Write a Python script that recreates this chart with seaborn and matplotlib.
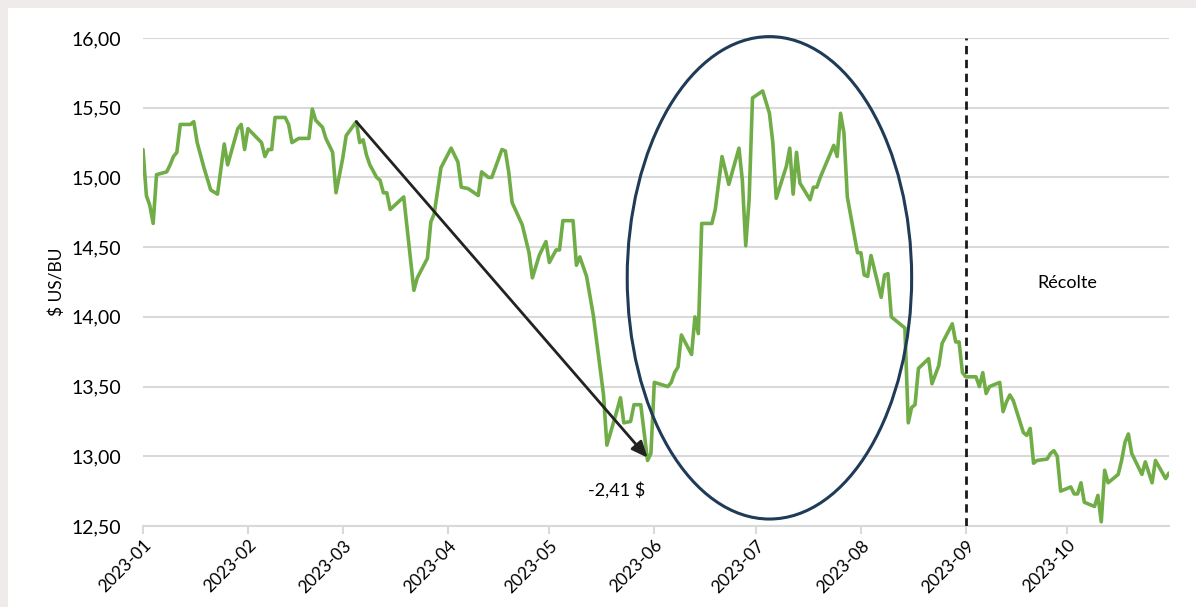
import matplotlib
matplotlib.use("Agg")
import matplotlib.pyplot as plt
import matplotlib.dates as mdates
from matplotlib.patches import Ellipse, Rectangle
from matplotlib.ticker import FuncFormatter
import pandas as pd
import seaborn as sns

dates = [
    "2023-01-01", "2023-01-02", "2023-01-03", "2023-01-04", "2023-01-05", "2023-01-08",
    "2023-01-09", "2023-01-10", "2023-01-11", "2023-01-12", "2023-01-15", "2023-01-16",
    "2023-01-17", "2023-01-19", "2023-01-21", "2023-01-23", "2023-01-25", "2023-01-26",
    "2023-01-29", "2023-01-30", "2023-01-31", "2023-02-01", "2023-02-05", "2023-02-06",
    "2023-02-07", "2023-02-08", "2023-02-09", "2023-02-12", "2023-02-13", "2023-02-14",
    "2023-02-16", "2023-02-19", "2023-02-20", "2023-02-21", "2023-02-23", "2023-02-24",
    "2023-02-26", "2023-02-27", "2023-03-01", "2023-03-02", "2023-03-05", "2023-03-06",
    "2023-03-07", "2023-03-08", "2023-03-09", "2023-03-11", "2023-03-12", "2023-03-13",
    "2023-03-14", "2023-03-15", "2023-03-19", "2023-03-22", "2023-03-23", "2023-03-26",
    "2023-03-27", "2023-03-28", "2023-03-30", "2023-04-02", "2023-04-04", "2023-04-05",
    "2023-04-07", "2023-04-10", "2023-04-11", "2023-04-13", "2023-04-14", "2023-04-17",
    "2023-04-18", "2023-04-19", "2023-04-20", "2023-04-23", "2023-04-25", "2023-04-26",
    "2023-04-28", "2023-04-30", "2023-05-01", "2023-05-03", "2023-05-04", "2023-05-05",
    "2023-05-08", "2023-05-09", "2023-05-10", "2023-05-12", "2023-05-14", "2023-05-17",
    "2023-05-18", "2023-05-21", "2023-05-22", "2023-05-23", "2023-05-25", "2023-05-26",
    "2023-05-28", "2023-05-30", "2023-05-31", "2023-06-01", "2023-06-05", "2023-06-06",
    "2023-06-07", "2023-06-08", "2023-06-09", "2023-06-12", "2023-06-13", "2023-06-14",
    "2023-06-15", "2023-06-18", "2023-06-19", "2023-06-21", "2023-06-23", "2023-06-26",
    "2023-06-27", "2023-06-28", "2023-06-29", "2023-06-30", "2023-07-03", "2023-07-05",
    "2023-07-06", "2023-07-07", "2023-07-10", "2023-07-11", "2023-07-12", "2023-07-13",
    "2023-07-14", "2023-07-17", "2023-07-18", "2023-07-19", "2023-07-20", "2023-07-24",
    "2023-07-25", "2023-07-26", "2023-07-27", "2023-07-28", "2023-07-31", "2023-08-01",
    "2023-08-02", "2023-08-03", "2023-08-04", "2023-08-07", "2023-08-08", "2023-08-09",
    "2023-08-10", "2023-08-14", "2023-08-15", "2023-08-16", "2023-08-17", "2023-08-18",
    "2023-08-21", "2023-08-22", "2023-08-24", "2023-08-25", "2023-08-28", "2023-08-29",
    "2023-08-30", "2023-08-31", "2023-09-01", "2023-09-04", "2023-09-05", "2023-09-06",
    "2023-09-07", "2023-09-08", "2023-09-11", "2023-09-12", "2023-09-13", "2023-09-14",
    "2023-09-15", "2023-09-18", "2023-09-19", "2023-09-20", "2023-09-21", "2023-09-22",
    "2023-09-25", "2023-09-26", "2023-09-27", "2023-09-28", "2023-09-29", "2023-10-02",
    "2023-10-03", "2023-10-04", "2023-10-05", "2023-10-06", "2023-10-09", "2023-10-10",
    "2023-10-11", "2023-10-12", "2023-10-13", "2023-10-16", "2023-10-17", "2023-10-18",
    "2023-10-19", "2023-10-20", "2023-10-23", "2023-10-24", "2023-10-26", "2023-10-27",
    "2023-10-30", "2023-10-31",
]

prices = [
    15.20, 14.87, 14.80, 14.67, 15.02, 15.04,
    15.09, 15.15, 15.18, 15.38, 15.38, 15.40,
    15.25, 15.07, 14.91, 14.88, 15.24, 15.09,
    15.35, 15.38, 15.20, 15.35, 15.25, 15.15,
    15.20, 15.20, 15.43, 15.43, 15.38, 15.25,
    15.28, 15.28, 15.49, 15.41, 15.36, 15.28,
    15.18, 14.89, 15.14, 15.30, 15.40, 15.25,
    15.27, 15.16, 15.09, 15.00, 14.98, 14.89,
    14.89, 14.77, 14.86, 14.19, 14.28, 14.42,
    14.68, 14.74, 15.07, 15.21, 15.11, 14.93,
    14.92, 14.87, 15.04, 15.00, 15.00, 15.20,
    15.19, 15.04, 14.82, 14.66, 14.46, 14.28,
    14.44, 14.54, 14.39, 14.48, 14.48, 14.69,
    14.69, 14.37, 14.43, 14.29, 14.01, 13.44,
    13.08, 13.33, 13.42, 13.24, 13.25, 13.37,
    13.37, 12.97, 13.02, 13.53, 13.50, 13.53,
    13.60, 13.64, 13.87, 13.73, 14.00, 13.88,
    14.67, 14.67, 14.77, 15.15, 14.95, 15.21,
    14.98, 14.51, 14.84, 15.57, 15.62, 15.46,
    15.25, 14.85, 15.08, 15.21, 14.88, 15.18,
    14.96, 14.84, 14.93, 14.93, 15.00, 15.23,
    15.15, 15.46, 15.32, 14.86, 14.46, 14.46,
    14.30, 14.29, 14.44, 14.14, 14.30, 14.31,
    14.00, 13.92, 13.24, 13.35, 13.37, 13.63,
    13.70, 13.52, 13.65, 13.81, 13.95, 13.82,
    13.82, 13.60, 13.57, 13.57, 13.50, 13.60,
    13.45, 13.50, 13.53, 13.32, 13.39, 13.44,
    13.40, 13.17, 13.15, 13.20, 12.95, 12.97,
    12.98, 13.02, 13.04, 13.00, 12.75, 12.78,
    12.73, 12.73, 12.81, 12.67, 12.64, 12.72,
    12.53, 12.90, 12.81, 12.87, 12.97, 13.10,
    13.16, 13.02, 12.87, 12.96, 12.81, 12.97,
    12.84, 12.88,
]

month_ticks = ["2023-01-01", "2023-02-01", "2023-03-01", "2023-04-01", "2023-05-01",
               "2023-06-01", "2023-07-01", "2023-08-01", "2023-09-01", "2023-10-01"]
y_ticks = [12.5, 13.0, 13.5, 14.0, 14.5, 15.0, 15.5, 16.0]

y_label = "$ US/BU"
drop_label = "-2,41 $"
harvest_label = "Récolte"
harvest_date = "2023-09-01"
arrow_start = ("2023-03-05", 15.40)
arrow_end = ("2023-05-30", 12.99)
ellipse_center = ("2023-07-05", 14.28)
ellipse_size = (84, 3.46)  # days, $ US/BU

sns.set_theme(style="white")
plt.rcParams["font.family"] = ["Lato", "DejaVu Sans"]

df = pd.DataFrame({"date": pd.to_datetime(dates), "price": prices})

fig = plt.figure(figsize=(11.96, 6.07), dpi=100)
fig.patch.set_facecolor("#eeebea")
bg = Rectangle((8 / 1196, 0), 1, 1 - 8 / 607, transform=fig.transFigure,
               facecolor="white", edgecolor="none", zorder=-10)
fig.add_artist(bg)
ax = fig.add_axes([143 / 1196, 1 - 526 / 607, (1169 - 143) / 1196, (526 - 38) / 607])
ax.set_zorder(1)
ax.patch.set_alpha(0)

sns.lineplot(data=df, x="date", y="price", ax=ax, color="#70ad47", linewidth=2.6, zorder=3)

ax.set_xlim(pd.Timestamp("2023-01-01"), pd.Timestamp("2023-10-31"))
ax.set_ylim(12.5, 16.0)
ax.set_yticks(y_ticks)
ax.yaxis.set_major_formatter(FuncFormatter(lambda v, p: f"{v:.2f}".replace(".", ",")))
ax.set_xticks(pd.to_datetime(month_ticks))
ax.xaxis.set_major_formatter(mdates.DateFormatter("%Y-%m"))
ax.grid(axis="y", color="#d9d9d9", linewidth=1.5, zorder=0)
ax.grid(axis="x", visible=False)
for s in ["left", "right", "top"]:
    ax.spines[s].set_visible(False)
ax.spines["bottom"].set_color("#d9d9d9")
ax.spines["bottom"].set_linewidth(1.5)
ax.tick_params(axis="x", which="major", bottom=True, length=6, width=1.5, color="#d9d9d9",
               labelsize=12.5, labelcolor="#000000", pad=2)
ax.tick_params(axis="y", left=False, labelsize=14, labelcolor="#000000", pad=10)
for lab in ax.get_xticklabels():
    lab.set_rotation(45)
    lab.set_ha("right")
    lab.set_rotation_mode("anchor")
ax.set_xlabel("")
ax.set_ylabel(y_label, fontsize=12.5, color="#000000", labelpad=4)
ax.yaxis.set_label_coords(-0.076, 0.5)

# harvest line
ax.axvline(pd.Timestamp(harvest_date), color="#1a1a1a", linestyle=(0, (3, 2)), linewidth=2, zorder=4)
ax.text(pd.Timestamp("2023-10-01"), 14.24, harvest_label, fontsize=13, ha="center", va="center",
        color="#000000")

# drop arrow
ax.annotate("", xy=(pd.Timestamp(arrow_end[0]), arrow_end[1]),
            xytext=(pd.Timestamp(arrow_start[0]), arrow_start[1]),
            arrowprops=dict(arrowstyle="-|>,head_length=0.8,head_width=0.35", color="#222222",
                            linewidth=2, shrinkA=0, shrinkB=0), zorder=5)
ax.text(pd.Timestamp("2023-05-21"), 12.76, drop_label, fontsize=13, ha="center", va="center",
        color="#000000")

# ellipse
cx = mdates.date2num(pd.Timestamp(ellipse_center[0]))
ell = Ellipse((cx, ellipse_center[1]), width=ellipse_size[0], height=ellipse_size[1],
              facecolor="none", edgecolor="#1f3b57", linewidth=2.2, clip_on=False, zorder=6)
ax.add_patch(ell)

fig.savefig("out.png", dpi=100, facecolor=fig.get_facecolor())
